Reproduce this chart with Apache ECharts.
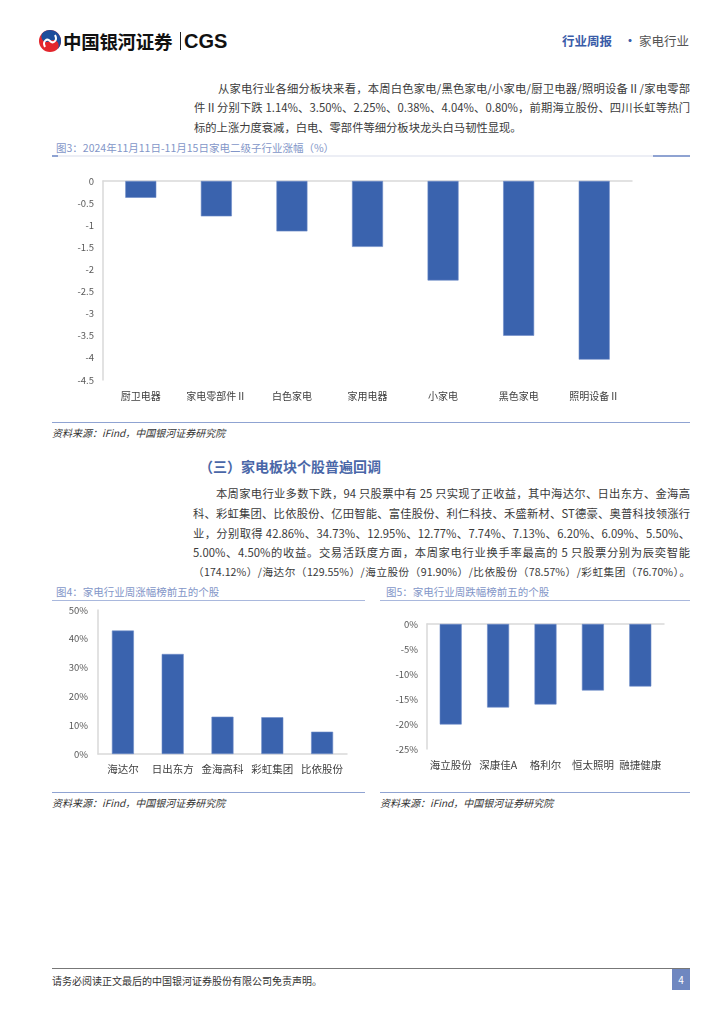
<!DOCTYPE html>
<html><head><meta charset="utf-8">
<script src="https://cdn.jsdelivr.net/npm/echarts@6/dist/echarts.min.js"></script>
<style>
body{margin:0;width:724px;height:1024px;position:relative;background:#fff;font-family:"Noto Sans CJK SC","Noto Sans",sans-serif;overflow:hidden}
.a{position:absolute;white-space:nowrap}
.ln{position:absolute;height:16px;line-height:16px;font-size:11.3px;color:#3a3a3a;text-align:justify;text-align-last:justify}
.ln.last{text-align-last:left}
.cap{position:absolute;font-size:10.5px;color:#8396c8;height:14px;line-height:14px;white-space:nowrap}
.hr{position:absolute;height:0}
.src{position:absolute;font-size:10px;color:#333;font-style:italic;white-space:nowrap;height:14px;line-height:14px}
.chart{position:absolute}
</style></head>
<body>
<!-- header -->
<svg width="24" height="24" viewBox="0 0 24 24" style="position:absolute;left:38px;top:29px">
  <circle cx="12" cy="12" r="11" fill="#e3262d"/>
  <path d="M12,1 A11,11 0 0 1 12,23 A5.5,5.5 0 0 0 12,12 A5.5,5.5 0 0 1 12,1 Z" fill="#1c4d9c" transform="rotate(-35 12 12)"/>
  <path d="M7,18 C4,12 9,9 12,12 C15,15 20,12 17,6" stroke="#fff" stroke-width="2" fill="none"/>
</svg>
<div class="a" style="left:63px;top:29px;font-size:18.5px;font-weight:bold;color:#111;line-height:24px;letter-spacing:-0.3px">中国银河证券</div>
<div class="a" style="left:180px;top:32px;width:1px;height:18px;background:#222"></div>
<div class="a" style="left:184px;top:28px;font-family:'Liberation Sans',Arial,sans-serif;font-size:20px;font-weight:bold;color:#111;line-height:26px">CGS</div>
<div class="a" style="left:562px;top:32px;font-size:12.5px;font-weight:bold;color:#3a5ca8;line-height:17px">行业周报</div>
<div class="a" style="left:624px;top:32px;font-size:12px;font-weight:bold;color:#3a5ca8;line-height:17px">·</div>
<div class="a" style="left:639px;top:32px;font-size:12.5px;color:#555;line-height:17px">家电行业</div>

<!-- paragraph 1 -->
<div class="ln" style="left:218px;width:472px;top:80px">从家电行业各细分板块来看，本周白色家电/黑色家电/小家电/厨卫电器/照明设备Ⅱ/家电零部</div>
<div class="ln" style="left:194px;width:496px;top:99px">件Ⅱ分别下跌 1.14%、3.50%、2.25%、0.38%、4.04%、0.80%，前期海立股份、四川长虹等热门</div>
<div class="ln last" style="left:194px;width:496px;top:119px">标的上涨力度衰减，白电、零部件等细分板块龙头白马韧性显现。</div>

<!-- figure 3 -->
<div class="cap" style="left:56px;top:141px">图3：2024年11月11日-11月15日家电二级子行业涨幅（%）</div>
<div class="hr" style="left:52px;top:155px;width:638px;border-top:2px solid #eceef5"></div>
<div class="hr" style="left:52px;top:155px;width:6px;border-top:2px solid #8fa3d2"></div>
<div class="hr" style="left:653px;top:155px;width:37px;border-top:2px solid #8fa3d2"></div>
<div id="c3" class="chart" style="left:40px;top:160px;width:620px;height:255px"></div>
<div class="hr" style="left:52px;top:422px;width:638px;border-top:1.5px solid #8fa3d2"></div>
<div class="src" style="left:52px;top:426px">资料来源：iFind，中国银河证券研究院</div>

<!-- section heading & paragraph 2 -->
<div class="a" style="left:199px;top:457px;font-size:14px;font-weight:bold;color:#4a67a8;line-height:18px">（三）家电板块个股普遍回调</div>
<div class="ln" style="left:216px;width:474px;top:485px">本周家电行业多数下跌，94 只股票中有 25 只实现了正收益，其中海达尔、日出东方、金海高</div>
<div class="ln" style="left:193px;width:497px;top:505px">科、彩虹集团、比依股份、亿田智能、富佳股份、利仁科技、禾盛新材、ST德豪、奥普科技领涨行</div>
<div class="ln" style="left:193px;width:497px;top:525px">业，分别取得 42.86%、34.73%、12.95%、12.77%、7.74%、7.13%、6.20%、6.09%、5.50%、</div>
<div class="ln" style="left:193px;width:497px;top:544px">5.00%、4.50%的收益。交易活跃度方面，本周家电行业换手率最高的 5 只股票分别为辰奕智能</div>
<div class="ln" style="left:193px;width:497px;top:564px;font-size:10.6px;white-space:nowrap">（174.12%）/海达尔（129.55%）/海立股份（91.90%）/比依股份（78.57%）/彩虹集团（76.70%）。</div>

<!-- figure 4 -->
<div class="cap" style="left:56px;top:585px">图4：家电行业周涨幅榜前五的个股</div>
<div class="hr" style="left:52px;top:600px;width:313px;border-top:1.5px solid #a9b8dd"></div>
<div id="c4" class="chart" style="left:40px;top:600px;width:330px;height:190px"></div>
<div class="hr" style="left:52px;top:792px;width:313px;border-top:1.5px solid #8fa3d2"></div>
<div class="src" style="left:52px;top:796px">资料来源：iFind，中国银河证券研究院</div>

<!-- figure 5 -->
<div class="cap" style="left:386px;top:585px">图5：家电行业周跌幅榜前五的个股</div>
<div class="hr" style="left:380px;top:600px;width:310px;border-top:1.5px solid #a9b8dd"></div>
<div id="c5" class="chart" style="left:370px;top:600px;width:330px;height:190px"></div>
<div class="hr" style="left:380px;top:792px;width:310px;border-top:1.5px solid #8fa3d2"></div>
<div class="src" style="left:380px;top:796px">资料来源：iFind，中国银河证券研究院</div>

<!-- footer -->
<div class="hr" style="left:52px;top:968px;width:638px;border-top:1px solid #777"></div>
<div class="a" style="left:52px;top:974px;font-size:10px;color:#333;line-height:14px">请务必阅读正文最后的中国银河证券股份有限公司免责声明。</div>
<div class="a" style="left:672px;top:969px;width:18px;height:21px;background:#6f87c0;color:#fff;font-size:10px;line-height:21px;text-align:center">4</div>

<script>
// ---- data ----
const c3Cats = ['厨卫电器','家电零部件Ⅱ','白色家电','家用电器','小家电','黑色家电','照明设备Ⅱ'];
const c3Vals = [-0.38,-0.80,-1.14,-1.49,-2.25,-3.50,-4.04];
const c3Ticks = {min:-4.5, max:0, interval:0.5};

const c4Cats = ['海达尔','日出东方','金海高科','彩虹集团','比依股份'];
const c4Vals = [42.86,34.73,12.95,12.77,7.74];
const c4Ticks = {min:0, max:50, interval:10};

const c5Cats = ['海立股份','深康佳A','格利尔','恒太照明','融捷健康'];
const c5Vals = [-20.1,-16.7,-16.1,-13.3,-12.5];
const c5Ticks = {min:-25, max:0, interval:5};

const FONT = '"Noto Sans CJK SC","Noto Sans",sans-serif';
const BAR = '#3a63ae';
const AXIS = '#d9d9d9';

function makeOpt(cats, vals, ticks, grid, barWidth, fmt, neg, labMargin, yMargin, catFont){
  const xAxes = [{
    type:'category', data:cats, position:'bottom',
    axisLine: neg ? {show:false, onZero:false} : {show:true, onZero:false, lineStyle:{color:AXIS, width:1.5}},
    axisTick:{show:false},
    axisLabel:{color:'#404040', fontSize:catFont, fontFamily:FONT, margin:labMargin, interval:0}
  }];
  if (neg) xAxes.push({
    type:'category', data:cats, position:'top',
    axisLine:{show:true, lineStyle:{color:AXIS, width:1.5}},
    axisTick:{show:false}, axisLabel:{show:false}
  });
  return {
    animation:false,
    grid: Object.assign({containLabel:false}, grid),
    xAxis: xAxes,
    yAxis: {
      type:'value', min:ticks.min, max:ticks.max, interval:ticks.interval,
      axisLine:{show:true, lineStyle:{color:AXIS, width:1.5}},
      axisTick:{show:false}, splitLine:{show:false},
      axisLabel:{color:'#595959', fontSize:9.5, fontFamily:FONT, margin:yMargin, formatter:fmt}
    },
    series:[{type:'bar', data:vals, barWidth:barWidth, itemStyle:{color:BAR, borderColor:'#6d8bc8', borderWidth:0.6}}]
  };
}

echarts.init(document.getElementById('c3'), null, {renderer:'canvas'}).setOption(
  makeOpt(c3Cats, c3Vals, c3Ticks, {left:63, top:21, width:529, height:199}, 31, v=>String(v), true, 11, 9, 10));
echarts.init(document.getElementById('c4'), null, {renderer:'canvas'}).setOption(
  makeOpt(c4Cats, c4Vals, c4Ticks, {left:58, top:10, width:249, height:144}, 22, v=>v+'%', false, 10, 10, 10.5));
echarts.init(document.getElementById('c5'), null, {renderer:'canvas'}).setOption(
  makeOpt(c5Cats, c5Vals, c5Ticks, {left:57, top:24, width:237, height:125}, 22, v=>v+'%', true, 11, 9, 10.5));
</script>
</body></html>
